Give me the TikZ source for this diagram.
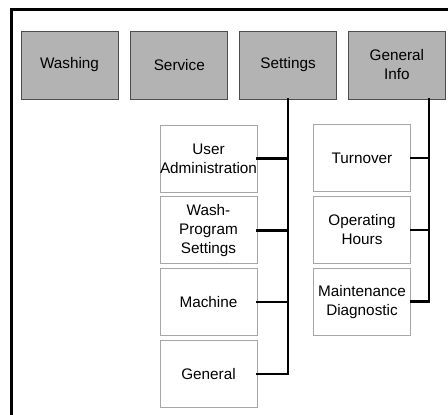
\documentclass[tikz,border=0pt]{standalone}
\usepackage{fontspec}
\setmainfont{Liberation Sans}
\usetikzlibrary{positioning}
\definecolor{menucol}{HTML}{B3B3B3}
\definecolor{menuline}{HTML}{4D4D4D}
\definecolor{subline}{HTML}{A6A6A6}

\begin{document}
\begin{tikzpicture}[
  x=1pt, y=-1pt,
  font=\fontsize{15.3}{19}\selectfont,
  menu/.style={draw=menuline, fill=menucol, align=center,
               minimum width=97pt, minimum height=68pt, inner sep=0pt, line width=0.8pt},
  sub/.style={draw=subline, fill=white, align=center,
              minimum width=97pt, minimum height=67pt, inner sep=0pt, line width=0.8pt},
  link/.style={line width=2.5pt, line cap=rect},
  frame/.style={line width=3pt},
]
\useasboundingbox (0,0) rectangle (448,415);

% ---------------------------------------------------------------- frame
\draw[frame] (11,416) -- (11,9) -- (449,9);

% ------------------------------------------------------------ top menu
\node[menu] (washing) at (69.5,65) {Washing};
\node[menu, right=12pt of washing] (service) {Service};
\node[menu, right=11pt of service] (settings) {Settings};
\node[menu, right=11pt of settings] (geninfo) {General\\Info};

% ----------------------------------------------------- settings entries
\node[sub] (useradmin) at (208.5,158.5) {User\\Administration};
\node[sub, below=4pt of useradmin] (washprog) {Wash-\\Program\\Settings};
\node[sub, below=4pt of washprog] (machine) {Machine};
\node[sub, below=4pt of machine] (general) {General};

% ------------------------------------------------- general info entries
\node[sub] (turnover) at (362,158) {Turnover};
\node[sub, below=4pt of turnover] (ophours) {Operating\\Hours};
\node[sub, below=4pt of ophours] (maint) {Maintenance\\Diagnostic};

\coordinate (gtrunk) at ([xshift=32pt]geninfo.south);

% ------------------------------------------------------------- links
\draw[link] (settings.south) -- (settings.south |- general.east) -- (general.east);
\draw[link] (useradmin.east) -- (useradmin.east -| settings.south);
\draw[link] (washprog.east)  -- (washprog.east -| settings.south);
\draw[link] (machine.east)   -- (machine.east -| settings.south);

\draw[link] (gtrunk) -- (gtrunk |- maint.east) -- (maint.east);
\draw[link] (turnover.east) -- (turnover.east -| gtrunk);
\draw[link] (ophours.east)  -- (ophours.east -| gtrunk);

\end{tikzpicture}
\end{document}
